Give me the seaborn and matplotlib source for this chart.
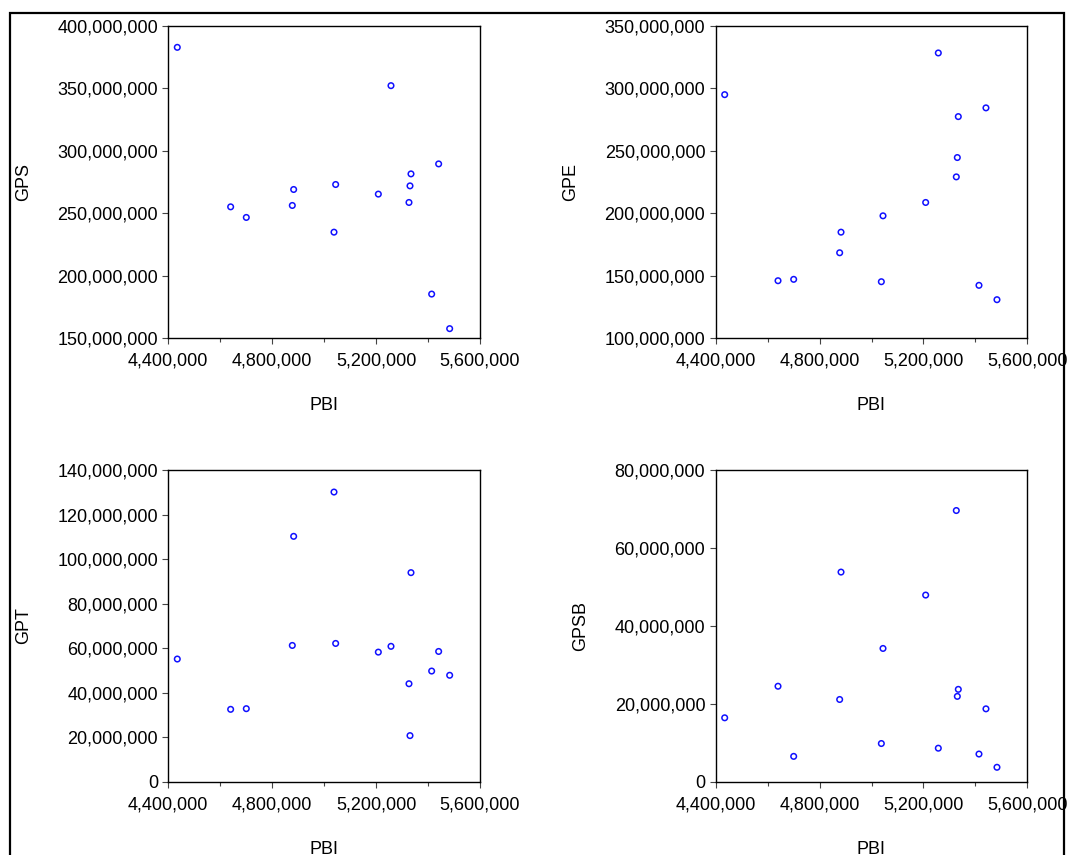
import matplotlib
matplotlib.use("Agg")
import matplotlib.pyplot as plt
import matplotlib.ticker as mticker
import matplotlib.patches as patches
import pandas as pd
import seaborn as sns

pbi = [4434600, 4640000, 4700300, 4877400, 4882600, 5037900, 5044300, 5208600,
       5257300, 5326600, 5330500, 5334300, 5413900, 5440800, 5483200]
gps = [382.9, 255.1, 246.6, 256.2, 269.0, 234.8, 273.0, 265.3,
       352.2, 258.6, 271.9, 281.5, 185.2, 289.5, 157.5]
gpe = [295.0, 145.9, 147.0, 168.3, 184.8, 145.1, 197.9, 208.6,
       328.4, 229.1, 244.6, 277.4, 142.2, 284.4, 130.7]
gpt = [55.1, 32.5, 32.8, 61.2, 110.2, 130.1, 62.1, 58.2,
       60.8, 44.0, 20.7, 93.9, 49.7, 58.5, 47.8]
gpsb = [16.4, 24.5, 6.5, 21.1, 53.8, 9.8, 34.2, 47.9,
        8.6, 69.6, 21.9, 23.7, 7.1, 18.7, 3.7]

df = pd.DataFrame({
    "PBI": pbi,
    "GPS": [v * 1e6 for v in gps],
    "GPE": [v * 1e6 for v in gpe],
    "GPT": [v * 1e6 for v in gpt],
    "GPSB": [v * 1e6 for v in gpsb],
})

# (column, y range, y step)
panels = [
    ("GPS", (150e6, 400e6), 50e6),
    ("GPE", (100e6, 350e6), 50e6),
    ("GPT", (0, 140e6), 20e6),
    ("GPSB", (0, 80e6), 20e6),
]

sns.set_style("ticks")
plt.rcParams["font.family"] = ["Liberation Sans", "DejaVu Sans"]
plt.rcParams["font.size"] = 13
plt.rcParams["text.color"] = "black"
plt.rcParams["axes.labelcolor"] = "black"
plt.rcParams["xtick.labelcolor"] = "black"
plt.rcParams["ytick.labelcolor"] = "black"

W, H = 1067, 855
fig = plt.figure(figsize=(W / 100, H / 100), dpi=100)

# axes boxes in pixels: left, top, right, bottom
boxes = [
    (168.3, 26, 480, 338),
    (715.7, 26, 1027.3, 338),
    (168.3, 470, 480, 781.7),
    (715.7, 470, 1027.3, 781.7),
]

fmt = mticker.FuncFormatter(lambda v, p: f"{v:,.0f}")

for (col, ylim, ystep), (l, t, r, b) in zip(panels, boxes):
    ax = fig.add_axes([l / W, 1 - b / H, (r - l) / W, (b - t) / H])
    sns.scatterplot(data=df, x="PBI", y=col, ax=ax, marker="o", s=16,
                    facecolors="none", edgecolor="#1010ff", linewidth=1.1)
    ax.set_xlim(4.4e6, 5.6e6)
    ax.set_ylim(*ylim)
    ax.xaxis.set_major_locator(mticker.MultipleLocator(400000))
    ax.xaxis.set_minor_locator(mticker.MultipleLocator(200000))
    ax.yaxis.set_major_locator(mticker.MultipleLocator(ystep))
    ax.xaxis.set_major_formatter(fmt)
    ax.yaxis.set_major_formatter(fmt)
    ax.tick_params(which="major", direction="out", length=4.5, width=0.8,
                   color="#444444", labelsize=13)
    ax.tick_params(axis="y", which="major", pad=3)
    ax.tick_params(axis="x", which="major", pad=6)
    ax.tick_params(which="minor", direction="out", length=3, width=0.8,
                   color="#444444")
    for sp in ax.spines.values():
        sp.set_color("black")
        sp.set_linewidth(1.0)
    ax.set_xlabel("PBI", fontsize=13, labelpad=20)
    ax.set_ylabel(col, fontsize=13, labelpad=18)

# outer frame of the graph
fig.patches.append(patches.Rectangle((10 / W, -0.02), 1054 / W, 1 - 13 / H + 0.02,
                                     transform=fig.transFigure, fill=False,
                                     edgecolor="black", linewidth=1.6))

fig.savefig("out.png", dpi=100)
